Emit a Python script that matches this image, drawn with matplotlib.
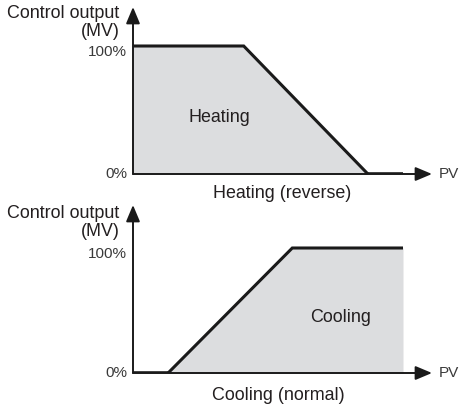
import matplotlib
matplotlib.use("Agg")
import matplotlib.pyplot as plt
import matplotlib.transforms as mtransforms

plt.rcParams['font.family'] = ['Liberation Sans', 'DejaVu Sans']

# Data (PV in arbitrary units, MV in %)
heat_pv = [0, 41, 87]
heat_mv = [100, 100, 0]
heat_tail_pv = [87, 100]
heat_tail_mv = [0, 0]

cool_head_pv = [0, 13]
cool_head_mv = [0, 0]
cool_pv = [13, 59, 100]
cool_mv = [0, 100, 100]

ytick_vals = [0, 100]
ytick_labels = ["0%", "100%"]

W, H = 459, 408
fig = plt.figure(figsize=(W / 100, H / 100), dpi=100)

LINE = '#1a1a1a'
FILL = '#dcdddf'
TXT = '#231f20'
TICK = '#3a3a3a'
XMAX = 299 / 2.7


def px_axes(left, top, right, bottom):
    return fig.add_axes([left / W, 1 - bottom / H, (right - left) / W, (bottom - top) / H])


def setup(ax, ymax):
    ax.set_xlim(0, XMAX)
    ax.set_ylim(0, ymax)
    for s in ax.spines.values():
        s.set_visible(False)
    ax.set_xticks([])
    ax.set_yticks([])
    ax.patch.set_alpha(0)
    ap = dict(arrowstyle='-|>,head_length=1.0,head_width=0.42', color=LINE, lw=1.4,
              shrinkA=0, shrinkB=0)
    ax.annotate('', xy=(0, 1), xytext=(0, 0), xycoords='axes fraction', arrowprops=ap)
    ax.annotate('', xy=(1, 0), xytext=(0, 0), xycoords='axes fraction', arrowprops=ap)
    # tick labels
    for v, lab in zip(ytick_vals, ytick_labels):
        dy = -6 if v == 100 else 0
        off = mtransforms.offset_copy(ax.transData, fig=fig, x=-6, y=dy, units='dots')
        ax.text(0, v, lab, transform=off, ha='right', va='center', fontsize=11, color=TICK)
    ax.text(XMAX, 0, 'PV', transform=mtransforms.offset_copy(ax.transData, fig=fig, x=7, y=0, units='dots'),
            ha='left', va='center', fontsize=11, color=TICK)


# Top: heating
ax1 = px_axes(133, 7, 432, 174)
setup(ax1, (174 - 7) / 1.28)
ax1.fill_between(heat_pv, heat_mv, 0, color=FILL, lw=0)
ax1.plot(heat_pv, heat_mv, color=LINE, lw=2.2, solid_joinstyle='miter', solid_capstyle='butt')
ax1.plot(heat_tail_pv, heat_tail_mv, color=LINE, lw=2.6, solid_capstyle='butt')
ax1.text(32, 44.5, 'Heating', ha='center', va='center', fontsize=12.9, color=TXT)

# Bottom: cooling
ax2 = px_axes(133, 205, 432, 373)
setup(ax2, (373 - 205) / 1.25)
ax2.fill_between(cool_pv, cool_mv, 0, color=FILL, lw=0)
ax2.plot(cool_pv, cool_mv, color=LINE, lw=2.2, solid_joinstyle='miter', solid_capstyle='butt')
ax2.plot(cool_head_pv, cool_head_mv, color=LINE, lw=2.6, solid_capstyle='butt')
ax2.text(76.7, 44.8, 'Cooling', ha='center', va='center', fontsize=12.9, color=TXT)


def ftext(x, y, s, **kw):
    fig.text(x / W, 1 - y / H, s, fontsize=12.9, color=TXT, **kw)


ftext(119, 13, 'Control output', ha='right', va='center')
ftext(100, 31, '(MV)', ha='center', va='center')
ftext(282, 193, 'Heating (reverse)', ha='center', va='center')
ftext(119, 213, 'Control output', ha='right', va='center')
ftext(100, 231, '(MV)', ha='center', va='center')
ftext(278, 396, 'Cooling (normal)', ha='center', va='center')

fig.savefig('out.png', dpi=100)
